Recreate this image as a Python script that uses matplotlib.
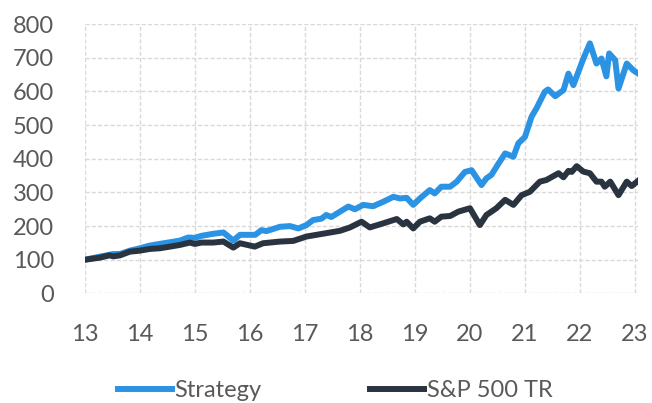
import matplotlib
matplotlib.use('Agg')
import matplotlib.pyplot as plt

plt.rcParams['font.family'] = ['Lato', 'DejaVu Sans']

# Strategy 指数 (年份两位数, 起点=100)
strat_x = [13.0, 13.27, 13.52, 13.64, 13.82, 14.0, 14.18, 14.36, 14.55, 14.73, 14.88, 15.0,
           15.12, 15.33, 15.52, 15.7, 15.82, 16.1, 16.21, 16.3, 16.55, 16.73, 16.88, 17.03,
           17.15, 17.3, 17.39, 17.48, 17.64, 17.79, 17.91, 18.06, 18.24, 18.42, 18.61, 18.73,
           18.85, 18.97, 19.09, 19.27, 19.36, 19.48, 19.64, 19.76, 19.91, 20.03, 20.21, 20.3,
           20.39, 20.52, 20.64, 20.79, 20.88, 21.0, 21.12, 21.21, 21.36, 21.42, 21.55, 21.7,
           21.79, 21.88, 22.06, 22.18, 22.3, 22.39, 22.48, 22.53, 22.64, 22.7, 22.85, 22.97, 23.06]
strat_y = [100, 109, 117, 117, 127, 134, 142, 147, 152, 157, 166, 165,
           171, 177, 181, 157, 174, 174, 188, 185, 198, 200, 193, 203,
           218, 222, 233, 227, 243, 258, 250, 263, 259, 272, 287, 282,
           284, 263, 282, 307, 297, 317, 317, 332, 361, 366, 322, 342,
           352, 386, 416, 406, 446, 465, 525, 550, 599, 606, 586, 604,
           653, 619, 697, 743, 683, 698, 645, 713, 693, 609, 683, 663, 653]

# S&P 500 TR
spx_x = [13.0, 13.27, 13.45, 13.52, 13.64, 13.82, 14.0, 14.18, 14.36, 14.55, 14.73, 14.91,
         15.0, 15.12, 15.33, 15.52, 15.7, 15.82, 16.09, 16.24, 16.55, 16.79, 17.03, 17.39,
         17.64, 17.82, 18.03, 18.18, 18.42, 18.67, 18.79, 18.85, 18.97, 19.09, 19.27, 19.36,
         19.48, 19.64, 19.79, 20.0, 20.18, 20.3, 20.48, 20.64, 20.79, 20.94, 21.09, 21.27,
         21.39, 21.61, 21.7, 21.79, 21.85, 21.94, 22.06, 22.18, 22.3, 22.39, 22.45, 22.55,
         22.7, 22.85, 22.94, 23.06]
spx_y = [100, 106, 113, 110, 113, 124, 127, 132, 134, 139, 144, 151,
         147, 151, 151, 154, 136, 149, 139, 149, 154, 156, 169, 179,
         186, 196, 213, 196, 208, 221, 205, 213, 193, 213, 223, 213,
         228, 230, 243, 253, 203, 233, 253, 278, 263, 292, 302, 332,
         337, 357, 345, 364, 361, 378, 362, 357, 332, 332, 317, 332,
         292, 332, 319, 335]

x_ticks = list(range(13, 24))
y_ticks = list(range(0, 801, 100))

fig = plt.figure(figsize=(6.52, 4.03), dpi=100)
ax = fig.add_axes([0.130, 0.272, 0.849, 0.668])

ax.plot(strat_x, strat_y, color='#2B93E3', lw=4.3, label='Strategy', solid_joinstyle='round', zorder=3)
ax.plot(spx_x, spx_y, color='#2A3441', lw=4.3, label='S&P 500 TR', solid_joinstyle='round', zorder=3)

ax.set_xlim(13, 23.06)
ax.set_ylim(0, 800)
ax.set_xticks(x_ticks)
ax.set_yticks(y_ticks)
ax.grid(True, color='#D9D9D9', lw=1.0, linestyle=(0, (3, 1.5)))
for s in ax.spines.values():
    s.set_visible(False)
ax.tick_params(length=0, labelsize=17, labelcolor='#595959')
ax.tick_params(axis='y', pad=22)
ax.tick_params(axis='x', pad=22)

leg = fig.legend(loc='center', bbox_to_anchor=(0.514, 0.03), ncol=2, frameon=False,
                 fontsize=17, handlelength=2.3, handletextpad=0.1, columnspacing=4.6)
for t in leg.get_texts():
    t.set_color('#595959')

fig.savefig('out.png', dpi=100)
